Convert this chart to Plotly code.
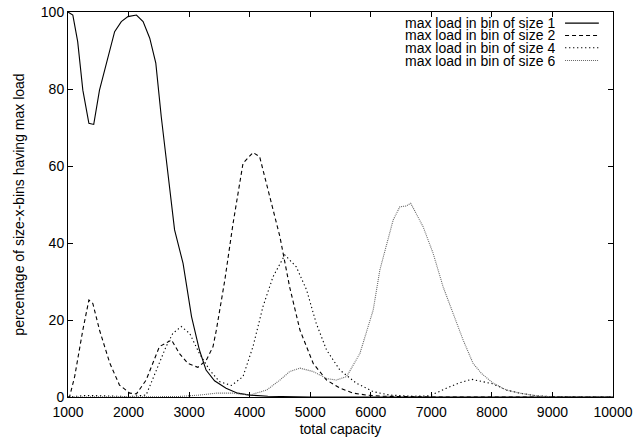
import plotly.graph_objects as go

# total capacity (x) and percentage of size-x-bins having max load (y)
size1_x = [1000, 1080, 1160, 1245, 1345, 1425, 1520, 1690, 1770, 1880, 1990, 2130, 2240,
           2350, 2450, 2540, 2680, 2760, 2900, 3040, 3170, 3280, 3420, 3610, 3800, 4000,
           4300, 4600, 5000, 6000, 7000, 8000, 9000, 10000]
size1_y = [100, 99.2, 92.3, 79.7, 71.1, 70.8, 79.7, 90.1, 94.9, 97.5, 98.8, 99.2, 97.5,
           93.2, 86.7, 72.8, 54.6, 43.4, 34.7, 20.9, 12.2, 7.0, 4.2, 2.3, 1.0, 0.5,
           0.2, 0.05, 0, 0, 0, 0, 0, 0]

size2_x = [1000, 1025, 1110, 1245, 1345, 1410, 1520, 1690, 1850, 2020, 2130, 2290, 2510,
           2710, 2840, 2980, 3145, 3285, 3395, 3450, 3590, 3725, 3890, 4055, 4165, 4330,
           4500, 4660, 4830, 5050, 5270, 5490, 5710, 5930, 6200, 7000, 8000, 9000, 10000]
size2_y = [0, 0, 5.3, 17.4, 25.2, 24.3, 17.4, 8.8, 3.1, 1.0, 0.8, 4.4, 13.1,
           14.8, 11.3, 8.7, 7.7, 9.6, 13.1, 17.4, 30.4, 45.0, 60.7, 63.5, 62.4, 52.0,
           41.6, 28.6, 17.4, 8.7, 4.4, 2.3, 1.0, 0.5, 0.2, 0, 0, 0, 0]

size4_x = [1000, 1300, 1600, 2000, 2290, 2460, 2620, 2730, 2870, 3010, 3170, 3340, 3500,
           3700, 3890, 4055, 4220, 4385, 4580, 4770, 4940, 5100, 5270, 5490, 5760, 6040,
           6310, 6700, 6975, 7250, 7470, 7665, 7860, 8020, 8240, 8460, 8740, 9010, 9500, 10000]
size4_y = [0, 0.4, 0.3, 0.1, 0.5, 7.0, 13.1, 16.5, 18.3, 16.5, 11.3, 7.0, 4.0,
           3.0, 5.3, 13.1, 23.5, 31.2, 36.9, 33.8, 27.8, 19.1, 12.2, 7.0, 3.6, 1.4,
           0.5, 0.2, 0.3, 2.3, 3.7, 4.6, 4.0, 3.4, 1.8, 1.0, 0.3, 0.1, 0, 0]

size6_x = [1000, 2000, 2800, 3170, 3450, 3720, 4000, 4280, 4500, 4660, 4830, 5050, 5270,
           5430, 5600, 5820, 6040, 6150, 6260, 6370, 6480, 6580, 6660, 6865, 7030, 7195,
           7360, 7525, 7690, 7830, 8020, 8240, 8460, 8740, 9000, 10000]
size6_y = [0, 0, 0.1, 0.5, 1.0, 1.0, 0.5, 1.8, 4.4, 6.6, 7.5, 6.6, 4.8,
           4.4, 5.3, 11.3, 22.6, 33.0, 39.9, 46.0, 49.4, 49.6, 50.3, 44.2, 37.3, 28.6,
           21.7, 14.8, 8.7, 6.1, 3.6, 1.8, 1.0, 0.3, 0, 0]

series_names = ["max load in bin of size 1", "max load in bin of size 2",
                "max load in bin of size 4", "max load in bin of size 6"]

x_ticks = [1000, 2000, 3000, 4000, 5000, 6000, 7000, 8000, 9000, 10000]
x_tick_labels = [str(v) for v in x_ticks]
y_ticks = [0, 20, 40, 60, 80, 100]

styles = [
    dict(color="black", width=1.1, dash="solid"),
    dict(color="black", width=1.1, dash="4px,3px"),
    dict(color="black", width=1.1, dash="1.3px,2.7px"),
    dict(color="#666666", width=1.1, dash="1px,1px"),
]

data = [(size1_x, size1_y), (size2_x, size2_y), (size4_x, size4_y), (size6_x, size6_y)]

fig = go.Figure()
for (xs, ys), name, st in zip(data, series_names, styles):
    fig.add_trace(go.Scatter(x=xs, y=ys, mode="lines", name=name, line=st,
                             showlegend=False))

# key in the top-right corner: right-aligned label followed by a sample line
key_rows = [0.971, 0.939, 0.907, 0.874]
for name, st, ky in zip(series_names, styles, key_rows):
    fig.add_annotation(x=0.897, y=ky, xref="paper", yref="paper", text=name,
                       showarrow=False, xanchor="right", yanchor="middle",
                       height=12, font=dict(size=14, color="black"))
    fig.add_shape(type="line", xref="paper", yref="paper", x0=0.912, x1=0.974,
                  y0=ky, y1=ky, line=st)

axis_common = dict(
    showline=True, linecolor="black", linewidth=1, mirror="ticks",
    ticks="inside", ticklen=5, tickcolor="black", tickwidth=1,
    showgrid=False, zeroline=False, automargin=False,
    tickfont=dict(size=14, color="black"),
)

fig.update_layout(
    width=635, height=439,
    margin=dict(l=68, r=22, t=12, b=42),
    paper_bgcolor="white", plot_bgcolor="white",
    font=dict(family="Liberation Sans, Arial, sans-serif", size=14, color="black"),
    xaxis=dict(range=[1000, 10000], tickvals=x_ticks, ticktext=x_tick_labels,
               ticklabelstandoff=2,
               title=dict(text="total capacity", standoff=5, font=dict(size=14)),
               **axis_common),
    yaxis=dict(range=[0, 100], tickvals=y_ticks,
               title=dict(text="percentage of size-x-bins having max load", standoff=12,
                          font=dict(size=14)),
               **axis_common),
)

fig.write_html("out.html")
